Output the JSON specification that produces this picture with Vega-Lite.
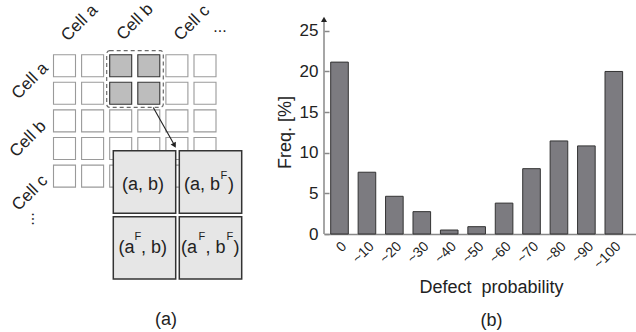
{
  "$schema": "https://vega.github.io/schema/vega-lite/v6.json",
  "padding": 0,
  "spacing": 64,
  "bounds": "flush",
  "config": {
    "font": "Liberation Sans",
    "view": {"stroke": null},
    "axis": {"labelColor": "#222", "titleColor": "#222", "labelFont": "Liberation Sans", "titleFont": "Liberation Sans"}
  },
  "datasets": {
    "cells": [
      {"x": 53.5, "x2": 75.5, "y": 50.7, "y2": 72.7, "shade": "off"},
      {"x": 81.6, "x2": 103.6, "y": 50.7, "y2": 72.7, "shade": "off"},
      {"x": 109.7, "x2": 131.7, "y": 50.7, "y2": 72.7, "shade": "on"},
      {"x": 137.8, "x2": 159.8, "y": 50.7, "y2": 72.7, "shade": "on"},
      {"x": 165.9, "x2": 187.9, "y": 50.7, "y2": 72.7, "shade": "off"},
      {"x": 194.0, "x2": 216.0, "y": 50.7, "y2": 72.7, "shade": "off"},
      {"x": 53.5, "x2": 75.5, "y": 78.3, "y2": 100.3, "shade": "off"},
      {"x": 81.6, "x2": 103.6, "y": 78.3, "y2": 100.3, "shade": "off"},
      {"x": 109.7, "x2": 131.7, "y": 78.3, "y2": 100.3, "shade": "on"},
      {"x": 137.8, "x2": 159.8, "y": 78.3, "y2": 100.3, "shade": "on"},
      {"x": 165.9, "x2": 187.9, "y": 78.3, "y2": 100.3, "shade": "off"},
      {"x": 194.0, "x2": 216.0, "y": 78.3, "y2": 100.3, "shade": "off"},
      {"x": 53.5, "x2": 75.5, "y": 105.9, "y2": 127.9, "shade": "off"},
      {"x": 81.6, "x2": 103.6, "y": 105.9, "y2": 127.9, "shade": "off"},
      {"x": 109.7, "x2": 131.7, "y": 105.9, "y2": 127.9, "shade": "off"},
      {"x": 137.8, "x2": 159.8, "y": 105.9, "y2": 127.9, "shade": "off"},
      {"x": 165.9, "x2": 187.9, "y": 105.9, "y2": 127.9, "shade": "off"},
      {"x": 194.0, "x2": 216.0, "y": 105.9, "y2": 127.9, "shade": "off"},
      {"x": 53.5, "x2": 75.5, "y": 133.5, "y2": 155.5, "shade": "off"},
      {"x": 81.6, "x2": 103.6, "y": 133.5, "y2": 155.5, "shade": "off"},
      {"x": 109.7, "x2": 131.7, "y": 133.5, "y2": 155.5, "shade": "off"},
      {"x": 137.8, "x2": 159.8, "y": 133.5, "y2": 155.5, "shade": "off"},
      {"x": 165.9, "x2": 187.9, "y": 133.5, "y2": 155.5, "shade": "off"},
      {"x": 194.0, "x2": 216.0, "y": 133.5, "y2": 155.5, "shade": "off"},
      {"x": 53.5, "x2": 75.5, "y": 161.1, "y2": 183.1, "shade": "off"},
      {"x": 81.6, "x2": 103.6, "y": 161.1, "y2": 183.1, "shade": "off"},
      {"x": 109.7, "x2": 131.7, "y": 161.1, "y2": 183.1, "shade": "off"},
      {"x": 137.8, "x2": 159.8, "y": 161.1, "y2": 183.1, "shade": "off"},
      {"x": 165.9, "x2": 187.9, "y": 161.1, "y2": 183.1, "shade": "off"},
      {"x": 194.0, "x2": 216.0, "y": 161.1, "y2": 183.1, "shade": "off"}
    ],
    "frame": [{"x": 106.7, "x2": 163.3, "y": 46.7, "y2": 103.3}],
    "arrow": [{"x": 153.3, "y": 103.5, "x2": 174.8, "y2": 141.8}],
    "head": [{"x": 174.5, "y": 141.4}],
    "boxes": [
      {"x": 113.3, "x2": 175.7, "y": 146.7, "y2": 209.3},
      {"x": 179.3, "x2": 241.7, "y": 146.7, "y2": 209.3},
      {"x": 113.3, "x2": 175.7, "y": 212.7, "y2": 275.0},
      {"x": 179.3, "x2": 241.7, "y": 212.7, "y2": 275.0}
    ],
    "labels": [
      {"kind": "cell", "x": 79.5, "y": 19, "t": "Cell a"},
      {"kind": "cell", "x": 135, "y": 18, "t": "Cell b"},
      {"kind": "cell", "x": 192, "y": 19, "t": "Cell c"},
      {"kind": "cell", "x": 30, "y": 77, "t": "Cell a"},
      {"kind": "cell", "x": 28, "y": 135, "t": "Cell b"},
      {"kind": "cell", "x": 30, "y": 189, "t": "Cell c"},
      {"kind": "hdots", "x": 220, "y": 27.5, "t": "..."},
      {"kind": "vdots", "x": 37, "y": 215, "t": "..."},
      {"kind": "panel", "x": 166, "y": 316, "t": "(a)"},
      {"kind": "main", "x": 122, "y": 181, "t": "(a, b)"},
      {"kind": "main", "x": 184, "y": 181, "t": "(a, b"},
      {"kind": "sup", "x": 220.5, "y": 171.6, "t": "F"},
      {"kind": "main", "x": 228, "y": 181, "t": ")"},
      {"kind": "main", "x": 118.5, "y": 243.5, "t": "(a"},
      {"kind": "sup", "x": 134.5, "y": 233, "t": "F"},
      {"kind": "main", "x": 141, "y": 243.5, "t": ", b)"},
      {"kind": "main", "x": 181, "y": 243.5, "t": "(a"},
      {"kind": "sup", "x": 198.5, "y": 233, "t": "F"},
      {"kind": "main", "x": 205.5, "y": 243.5, "t": ", b"},
      {"kind": "sup", "x": 226.5, "y": 233, "t": "F"},
      {"kind": "main", "x": 233.5, "y": 243.5, "t": ")"}
    ],
    "bars": [
      {"bin": "0", "freq": 21.15},
      {"bin": "~10", "freq": 7.6},
      {"bin": "~20", "freq": 4.64},
      {"bin": "~30", "freq": 2.75},
      {"bin": "~40", "freq": 0.49},
      {"bin": "~50", "freq": 0.9},
      {"bin": "~60", "freq": 3.8},
      {"bin": "~70", "freq": 8.04},
      {"bin": "~80", "freq": 11.45},
      {"bin": "~90", "freq": 10.84},
      {"bin": "~100", "freq": 20.0}
    ]
  },
  "hconcat": [
    {
      "width": 260,
      "height": 332,
      "encoding": {
        "x": {"field": "x", "type": "quantitative", "scale": {"domain": [0, 260], "nice": false, "zero": false}, "axis": null},
        "y": {"field": "y", "type": "quantitative", "scale": {"domain": [0, 332], "nice": false, "zero": false, "reverse": true}, "axis": null}
      },
      "layer": [
        {
          "data": {"name": "cells"},
          "mark": {"type": "rect", "strokeWidth": 1.1},
          "encoding": {
            "x2": {"field": "x2"},
            "y2": {"field": "y2"},
            "fill": {"field": "shade", "type": "nominal", "scale": {"domain": ["off", "on"], "range": ["#ffffff", "#bdbdbd"]}, "legend": null},
            "stroke": {"field": "shade", "type": "nominal", "scale": {"domain": ["off", "on"], "range": ["#9a9a9a", "#333333"]}, "legend": null}
          }
        },
        {
          "data": {"name": "frame"},
          "mark": {"type": "rect", "fillOpacity": 0, "stroke": "#6a6a6a", "strokeWidth": 1.2, "strokeDash": [4, 3], "cornerRadius": 3},
          "encoding": {"x2": {"field": "x2"}, "y2": {"field": "y2"}}
        },
        {
          "data": {"name": "arrow"},
          "mark": {"type": "rule", "color": "#222", "strokeWidth": 1.1},
          "encoding": {"x2": {"field": "x2"}, "y2": {"field": "y2"}}
        },
        {
          "data": {"name": "head"},
          "mark": {"type": "point", "shape": "triangle-up", "filled": true, "size": 36, "angle": 151, "color": "#222", "opacity": 1},
          "encoding": {}
        },
        {
          "data": {"name": "boxes"},
          "mark": {"type": "rect", "fill": "#e6e6e6", "stroke": "#333333", "strokeWidth": 1.5},
          "encoding": {"x2": {"field": "x2"}, "y2": {"field": "y2"}}
        },
        {
          "data": {"name": "labels"},
          "transform": [{"filter": "datum.kind === 'cell'"}],
          "mark": {"type": "text", "fontSize": 17, "angle": -45, "align": "center", "baseline": "middle", "color": "#222"},
          "encoding": {"text": {"field": "t"}}
        },
        {
          "data": {"name": "labels"},
          "transform": [{"filter": "datum.kind === 'hdots'"}],
          "mark": {"type": "text", "fontSize": 16, "align": "center", "baseline": "alphabetic", "color": "#222"},
          "encoding": {"text": {"field": "t"}}
        },
        {
          "data": {"name": "labels"},
          "transform": [{"filter": "datum.kind === 'vdots'"}],
          "mark": {"type": "text", "fontSize": 16, "angle": 90, "align": "center", "baseline": "middle", "color": "#222"},
          "encoding": {"text": {"field": "t"}}
        },
        {
          "data": {"name": "labels"},
          "transform": [{"filter": "datum.kind === 'panel'"}],
          "mark": {"type": "text", "fontSize": 18, "align": "center", "baseline": "middle", "color": "#222"},
          "encoding": {"text": {"field": "t"}}
        },
        {
          "data": {"name": "labels"},
          "transform": [{"filter": "datum.kind === 'main'"}],
          "mark": {"type": "text", "fontSize": 18, "align": "left", "baseline": "middle", "color": "#222"},
          "encoding": {"text": {"field": "t"}}
        },
        {
          "data": {"name": "labels"},
          "transform": [{"filter": "datum.kind === 'sup'"}],
          "mark": {"type": "text", "fontSize": 11, "align": "left", "baseline": "middle", "color": "#222"},
          "encoding": {"text": {"field": "t"}}
        }
      ]
    },
    {
      "width": 316,
      "height": 230,
      "data": {"name": "bars"},
      "layer": [
        {
          "mark": {"type": "bar", "fill": "#7c7b80", "stroke": "#333333", "strokeWidth": 1},
          "encoding": {
            "x": {
              "field": "bin", "type": "nominal", "sort": null,
              "scale": {"paddingInner": 0.358, "paddingOuter": 0.439, "align": 0.278},
              "axis": {
                "title": ["Defect\u00a0 probability", "(b)"],
                "labelAngle": -45, "ticks": false, "domainColor": "#888888", "domainWidth": 1.5,
                "labelFontSize": 14, "labelPadding": 5,
                "titleFontSize": 18, "titleFontWeight": "normal", "titleLineHeight": 33,
                "titleBaseline": "alphabetic", "titleY": 58.3, "titleX": 167, "titleAlign": "center"
              }
            },
            "y": {
              "field": "freq", "type": "quantitative",
              "scale": {"domain": [0, 28.3], "nice": false},
              "axis": {
                "title": "Freq. [%]", "values": [0, 5, 10, 15, 20, 25], "domain": false, "grid": false,
                "tickSize": -5, "tickColor": "#888888", "tickWidth": 1.5,
                "labelPadding": 11, "labelFontSize": 17,
                "titleFontSize": 18, "titleFontWeight": "normal", "titleAngle": -90,
                "titleX": -39, "titleY": 128, "titleBaseline": "middle", "titleAlign": "center"
              }
            }
          }
        },
        {
          "data": {"values": [{}]},
          "mark": {"type": "rule", "color": "#888888", "strokeWidth": 1.5},
          "encoding": {"x": {"value": 0}, "y": {"datum": 0}, "y2": {"datum": 26.4}}
        },
        {
          "data": {"values": [{}]},
          "mark": {"type": "point", "shape": "triangle-up", "filled": true, "size": 36, "color": "#222", "opacity": 1},
          "encoding": {"x": {"value": 0}, "y": {"datum": 26.4}}
        }
      ]
    }
  ]
}
